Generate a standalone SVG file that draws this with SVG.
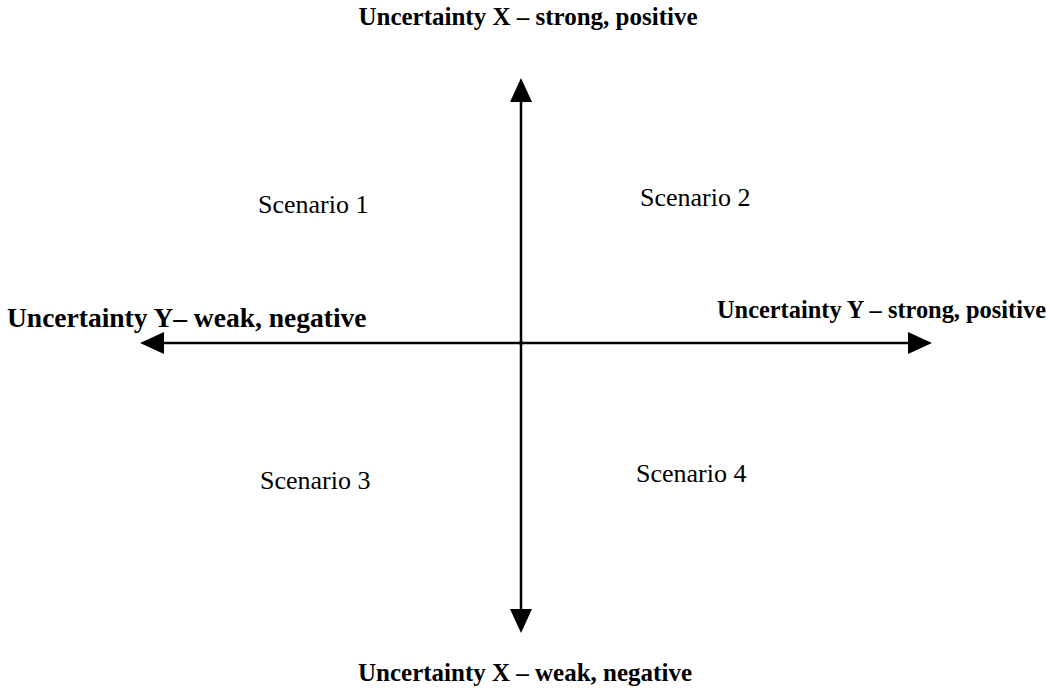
<svg xmlns="http://www.w3.org/2000/svg" width="1050" height="688" viewBox="0 0 1050 688">
<style>
.b{font-family:"Liberation Serif","Times New Roman",serif;font-weight:bold;fill:#000}
.s{font-family:"Liberation Serif","Times New Roman",serif;font-size:26px;fill:#000}
.ax{stroke:#000;stroke-width:2.5;fill:none}
</style>
<defs>
<marker id="ah" viewBox="0 0 24 22" refX="2" refY="11" markerWidth="24" markerHeight="22" markerUnits="userSpaceOnUse" orient="auto">
<path d="M0,0 L24,11 L0,22 Z" fill="#000"/>
</marker>
</defs>
<rect width="1050" height="688" fill="#fff"/>
<g id="connectors">
<line class="ax" x1="521" y1="345" x2="521" y2="100" marker-end="url(#ah)"/>
<line class="ax" x1="521" y1="341" x2="521" y2="611" marker-end="url(#ah)"/>
<line class="ax" x1="523" y1="343" x2="162" y2="343" marker-end="url(#ah)"/>
<line class="ax" x1="519" y1="343" x2="910" y2="343" marker-end="url(#ah)"/>
</g>
<g id="top-label"><text class="b" x="528" y="25" font-size="25" text-anchor="middle">Uncertainty X – strong, positive</text></g>
<g id="bottom-label"><text class="b" x="525" y="681" font-size="25" text-anchor="middle">Uncertainty X – weak, negative</text></g>
<g id="left-label"><text class="b" x="7" y="327" font-size="27.5">Uncertainty Y– weak, negative</text></g>
<g id="right-label"><text class="b" x="1046" y="318" font-size="24.4" text-anchor="end">Uncertainty Y – strong, positive</text></g>
<g id="scenario1"><text class="s" x="258" y="213">Scenario 1</text></g>
<g id="scenario2"><text class="s" x="640" y="206">Scenario 2</text></g>
<g id="scenario3"><text class="s" x="260" y="489">Scenario 3</text></g>
<g id="scenario4"><text class="s" x="636" y="482">Scenario 4</text></g>
</svg>
